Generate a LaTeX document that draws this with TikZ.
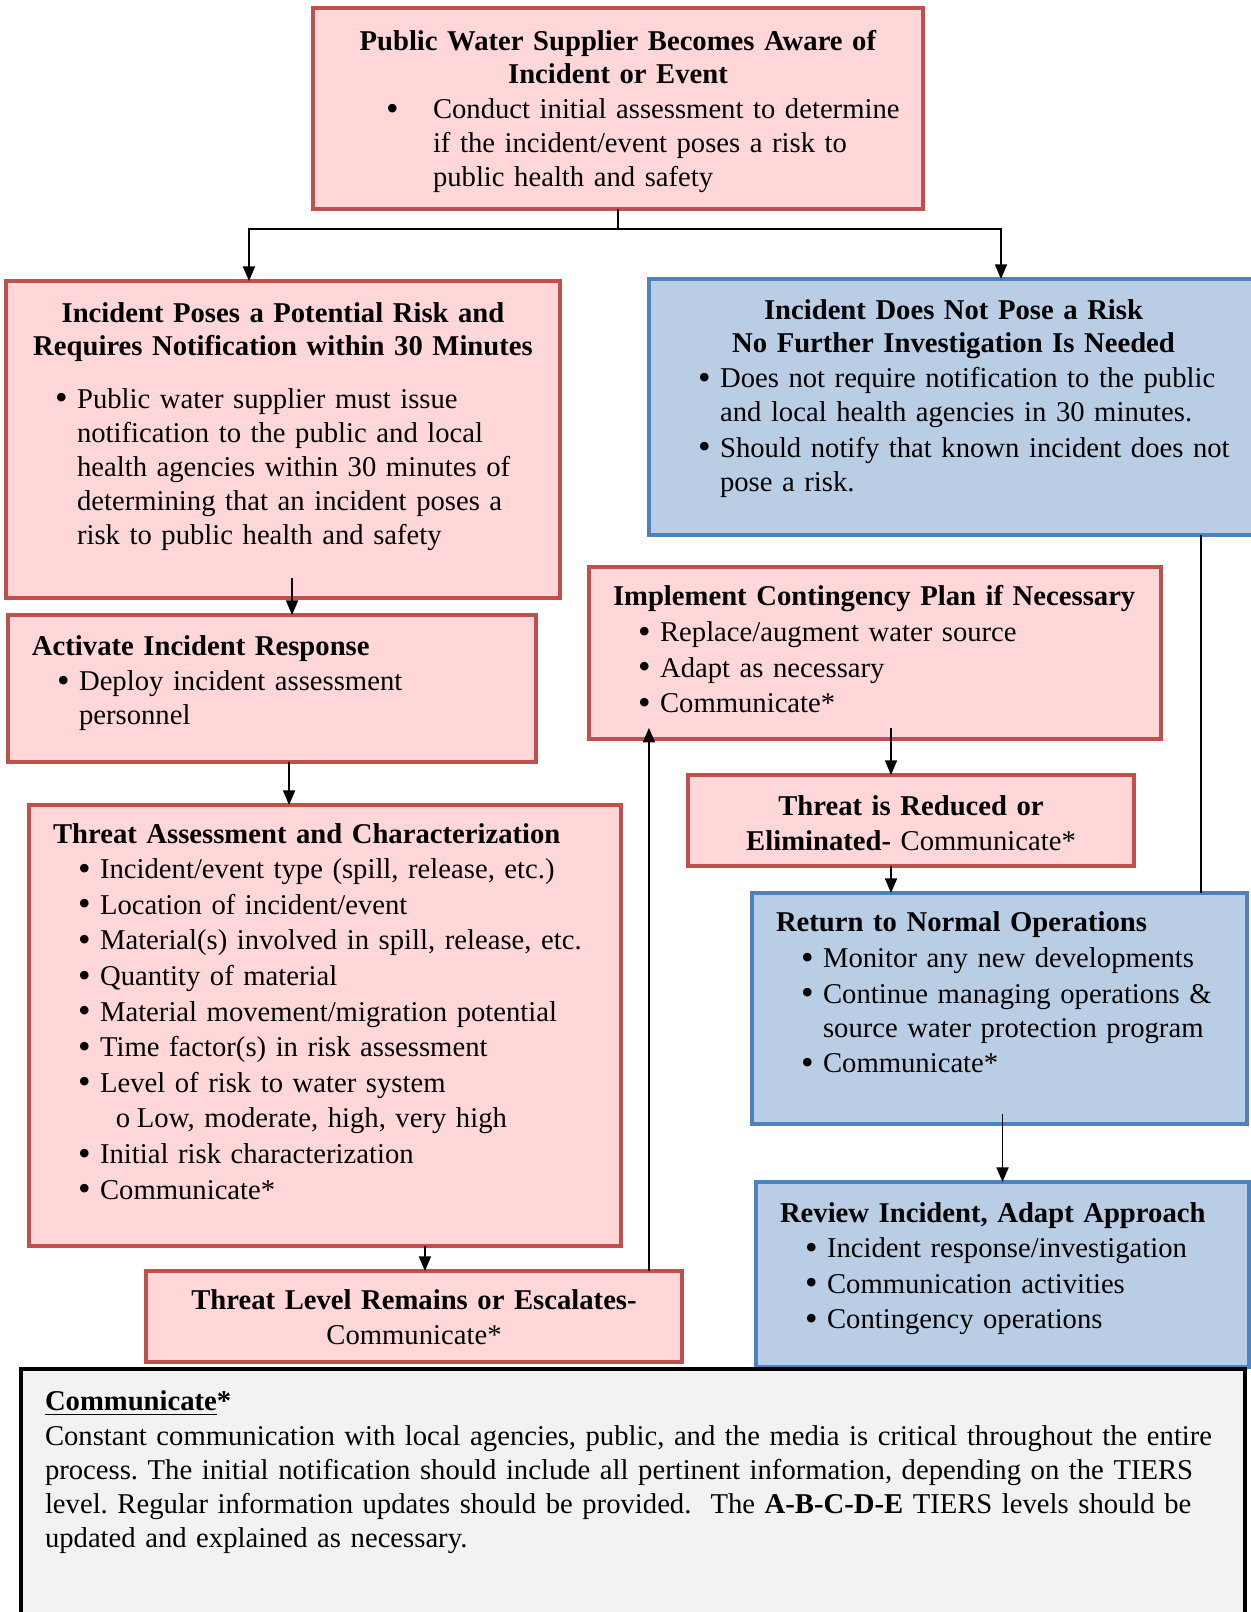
\documentclass[tikz,border=0pt]{standalone}
\usepackage{fontspec}
\setmainfont{Liberation Serif}
\usetikzlibrary{arrows.meta}

\definecolor{redfill}{HTML}{FFD7D8}
\definecolor{redline}{HTML}{C0504D}
\definecolor{bluefill}{HTML}{B9CDE5}
\definecolor{blueline}{HTML}{4F81BD}
\definecolor{notefill}{HTML}{F2F2F2}

% one bulleted paragraph: left skip, hang width, symbol, text
\newcommand\itemline[4]{\par\leftskip=#1\relax\rightskip=-8pt\relax\parfillskip=0pt plus 1fil\relax\hangindent=#2\relax\hangafter=1\noindent\makebox[#2][l]{#3}#4\par}
\newcommand\bigdot{\raisebox{-0.6pt}{\scalebox{1.25}{\textbullet}}}
\newcommand\bitem[1]{\itemline{9.4pt}{8.25pt}{\bigdot}{#1}}
\newcommand\midline[1]{\noindent\makebox[\linewidth][c]{#1}\par}
\newcommand\headline[1]{\noindent\mbox{\textbf{#1}}\par}

\begin{document}
\frenchspacing
\begin{tikzpicture}[x=0.375pt, y=-0.375pt,
  every node/.style={font=\fontsize{10.75}{12.75}\selectfont, execute at begin node={\setlength{\parskip}{0.6pt}}},
  box/.style={draw, rectangle, anchor=north west, inner xsep=9pt, inner ysep=0pt, outer sep=0pt},
  redbox/.style={box, fill=redfill, draw=redline, line width=1.6pt},
  bluebox/.style={box, fill=bluefill, draw=blueline, line width=1.6pt},
  notebox/.style={box, fill=notefill, draw=black, line width=1.8pt},
  conn/.style={line width=0.7pt, -{Triangle[length=5.5pt,width=4.5pt]}},
  link/.style={line width=0.7pt}]
\path[use as bounding box] (0,0) rectangle (1251,1612);

% boxes
\node[redbox, text width=210.75pt, text height=16pt, text depth=59.4pt] (aware) at (313,8) {%
\midline{\textbf{Public Water Supplier Becomes Aware of}}
\vspace{-1.2pt}
\midline{\textbf{Incident or Event}}
\itemline{18.4pt}{17.6pt}{\bigdot}{Conduct initial assessment to determine\newline if the incident/event poses a risk to\newline public health and safety}};

\node[redbox, text width=189.75pt, text height=15.6pt, text depth=103.25pt] (risk) at (6,281) {%
\midline{\textbf{Incident Poses a Potential Risk and}}
\vspace{-1.2pt}
\midline{\textbf{Requires Notification within 30 Minutes}}
\vspace{6.6pt}
\bitem{Public water supplier must issue\newline notification to the public and local\newline health agencies within 30 minutes of\newline determining that an incident poses a\newline risk to public health and safety}};

\node[bluebox, text width=210.4pt, text height=15.25pt, text depth=80.75pt] (norisk) at (649,279) {%
\midline{\textbf{Incident Does Not Pose a Risk}}
\vspace{-1.2pt}
\midline{\textbf{No Further Investigation Is Needed}}
\bitem{Does not require notification to the public\newline and local health agencies in 30 minutes.}
\bitem{Should notify that known incident does not\newline pose a risk.}};

\node[redbox, text width=180pt, text height=15pt, text depth=40.1pt] (activate) at (8,615) {%
\headline{Activate Incident Response}
\bitem{Deploy incident assessment\newline personnel}};

\node[redbox, text width=196.5pt, text height=14.6pt, text depth=49.9pt] (implement) at (589,567) {%
\headline{Implement Contingency Plan if Necessary}
\bitem{Replace/augment water source}
\bitem{Adapt as necessary}
\bitem{Communicate*}};

\node[redbox, text width=204pt, text height=14.25pt, text depth=151.1pt] (assess) at (29,805) {%
\headline{Threat Assessment and Characterization}
\bitem{Incident/event type (spill, release, etc.)}
\bitem{Location of incident/event}
\bitem{Material(s) involved in spill, release, etc.}
\bitem{Quantity of material}
\bitem{Material movement/migration potential}
\bitem{Time factor(s) in risk assessment}
\bitem{Level of risk to water system}
\itemline{23.6pt}{7.9pt}{o}{Low, moderate, high, very high}
\bitem{Initial risk characterization}
\bitem{Communicate*}};

\node[redbox, text width=149.25pt, text height=15pt, text depth=19.1pt] (reduced) at (688,775) {%
\midline{\textbf{Threat is Reduced or}}
\midline{\textbf{Eliminated-} Communicate*}};

\node[bluebox, text width=167.6pt, text height=14.6pt, text depth=72pt] (normal) at (752,893) {%
\headline{Return to Normal Operations}
\bitem{Monitor any new developments}
\bitem{Continue managing operations \&\newline source water protection program}
\bitem{Communicate*}};

\node[bluebox, text width=166.9pt, text height=15pt, text depth=54.4pt] (review) at (756,1182) {%
\headline{Review Incident, Adapt Approach}
\bitem{Incident response/investigation}
\bitem{Communication activities}
\bitem{Contingency operations}};

\node[redbox, text width=183pt, text height=14.25pt, text depth=19.9pt] (escalate) at (146,1271) {%
\midline{\textbf{Threat Level Remains or Escalates-}}
\midline{Communicate*}};

\node[notebox, text width=441pt, text height=15.4pt, text depth=78.75pt] (note) at (21,1369) {%
\noindent\textbf{\underline{Communicate}*}\par
{\rightskip=-8pt\relax\noindent Constant communication with local agencies, public, and the media is critical throughout the entire\newline process. The initial notification should include all pertinent information, depending on the TIERS\newline level. Regular information updates should be provided.\ \ The \textbf{A-B-C-D-E} TIERS levels should be\newline updated and explained as necessary.\par}};

% connectors
\draw[link] (aware.south) -- ++(0,20) coordinate (split);
\draw[conn] (split) -| ([xshift=-12.75pt]risk.north);
\draw[conn] (split) -| ([xshift=17.8pt]norisk.north);
\draw[conn] ([xshift=3.4pt,yshift=7.3pt]risk.south) -- ([xshift=3.4pt]risk.south |- activate.north);
\draw[conn] ([xshift=6.4pt]activate.south) -- ([xshift=6.4pt]activate.south |- assess.north);
\draw[conn] ([xshift=4.1pt]escalate.north |- assess.south) -- ([xshift=4.1pt]escalate.north);
\draw[conn] ([xshift=-12.4pt]escalate.north east) -- ([xshift=-12.4pt,yshift=4.2pt]escalate.north east |- implement.south);
\draw[conn] ([xshift=-7.5pt,yshift=4.2pt]reduced.north |- implement.south) -- ([xshift=-7.5pt]reduced.north);
\draw[conn] ([xshift=-7.5pt]reduced.south) -- ([xshift=-7.5pt]reduced.south |- normal.north);
\draw[link] ([xshift=-17.25pt]normal.north east) -- ([xshift=-17.25pt]normal.north east |- norisk.south);
\draw[conn] ([yshift=3.9pt]review.north |- normal.south) -- (review.north);
\end{tikzpicture}
\end{document}
